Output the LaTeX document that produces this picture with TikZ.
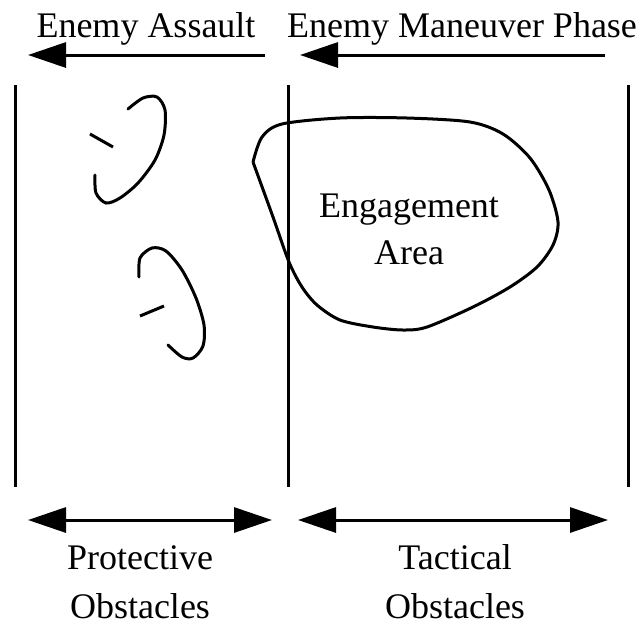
\documentclass[tikz,border=0pt]{standalone}
\usepackage{fontspec}
\setmainfont{Liberation Serif}
\usetikzlibrary{arrows.meta}
\begin{document}
\begin{tikzpicture}[x=1pt,y=-1pt,line width=3pt,
    tip/.style={-{Triangle[length=38pt,width=25pt]}},
    both/.style={{Triangle[length=38pt,width=25pt]}-{Triangle[length=38pt,width=25pt]}},
    lbl/.style={anchor=base,inner sep=0pt,font=\fontsize{36}{40}\selectfont}]
  \useasboundingbox (0,0) rectangle (644,625);

  % phases on top
  \coordinate (AS1) at (265,55);
  \coordinate (AS2) at (28,55);
  \coordinate (MP1) at (605,55);
  \coordinate (MP2) at (300,55);
  \node[lbl] (assault) at (146,37) {Enemy Assault};
  \node[lbl] (maneuver) at (462,37) {Enemy Maneuver Phase};
  \draw[tip] (AS1) -- (AS2);
  \draw[tip] (MP1) -- (MP2);

  % zone borders
  \coordinate (B1) at (15,85);
  \coordinate (B2) at (15,487);
  \coordinate (C1) at (288,85);
  \coordinate (C2) at (288,487);
  \coordinate (D1) at (628,85);
  \coordinate (D2) at (628,487);
  \draw (B1) -- (B2);
  \draw (C1) -- (C2);
  \draw (D1) -- (D2);

  % protective obstacles
  \draw[line cap=round] plot[smooth] coordinates {(128,109) (143,98) (157,97) (165,110)
    (164,135) (155,160) (138,183) (120,198) (106,203) (96,193) (95,175)};
  \draw (90,134) -- (113,147);
  \draw[line cap=round] plot[smooth] coordinates {(139,277) (140,258) (152,248) (166,251)
    (182,270) (196,298) (204,325) (203,346) (193,358) (182,357) (168,345)};
  \draw (140,316) -- (164,306);

  % engagement area
  \draw[line join=round] plot[smooth] coordinates {(253,162) (262,137) (282,124) (340,118)
    (407,118) (470,122) (503,134) (530,158) (549,190) (558,222) (553,245) (537,267)
    (510,287) (473,307) (427,327) (403,330) (373,327) (340,320) (317,305) (302,287)
    (289,262) (273,217) (253,162)};
  \node[lbl] (engage) at (409,217) {Engagement};
  \node[lbl] (area) at (409,264) {Area};

  % obstacle belts
  \coordinate (P1) at (28,520);
  \coordinate (P2) at (272,520);
  \coordinate (T1) at (298,520);
  \coordinate (T2) at (608,520);
  \draw[both] (P1) -- (P2);
  \draw[both] (T1) -- (T2);
  \node[lbl] (prot) at (140,569) {Protective};
  \node[lbl] (protob) at (140,618) {Obstacles};
  \node[lbl] (tact) at (455,569) {Tactical};
  \node[lbl] (tactob) at (455,618) {Obstacles};
\end{tikzpicture}
\end{document}
